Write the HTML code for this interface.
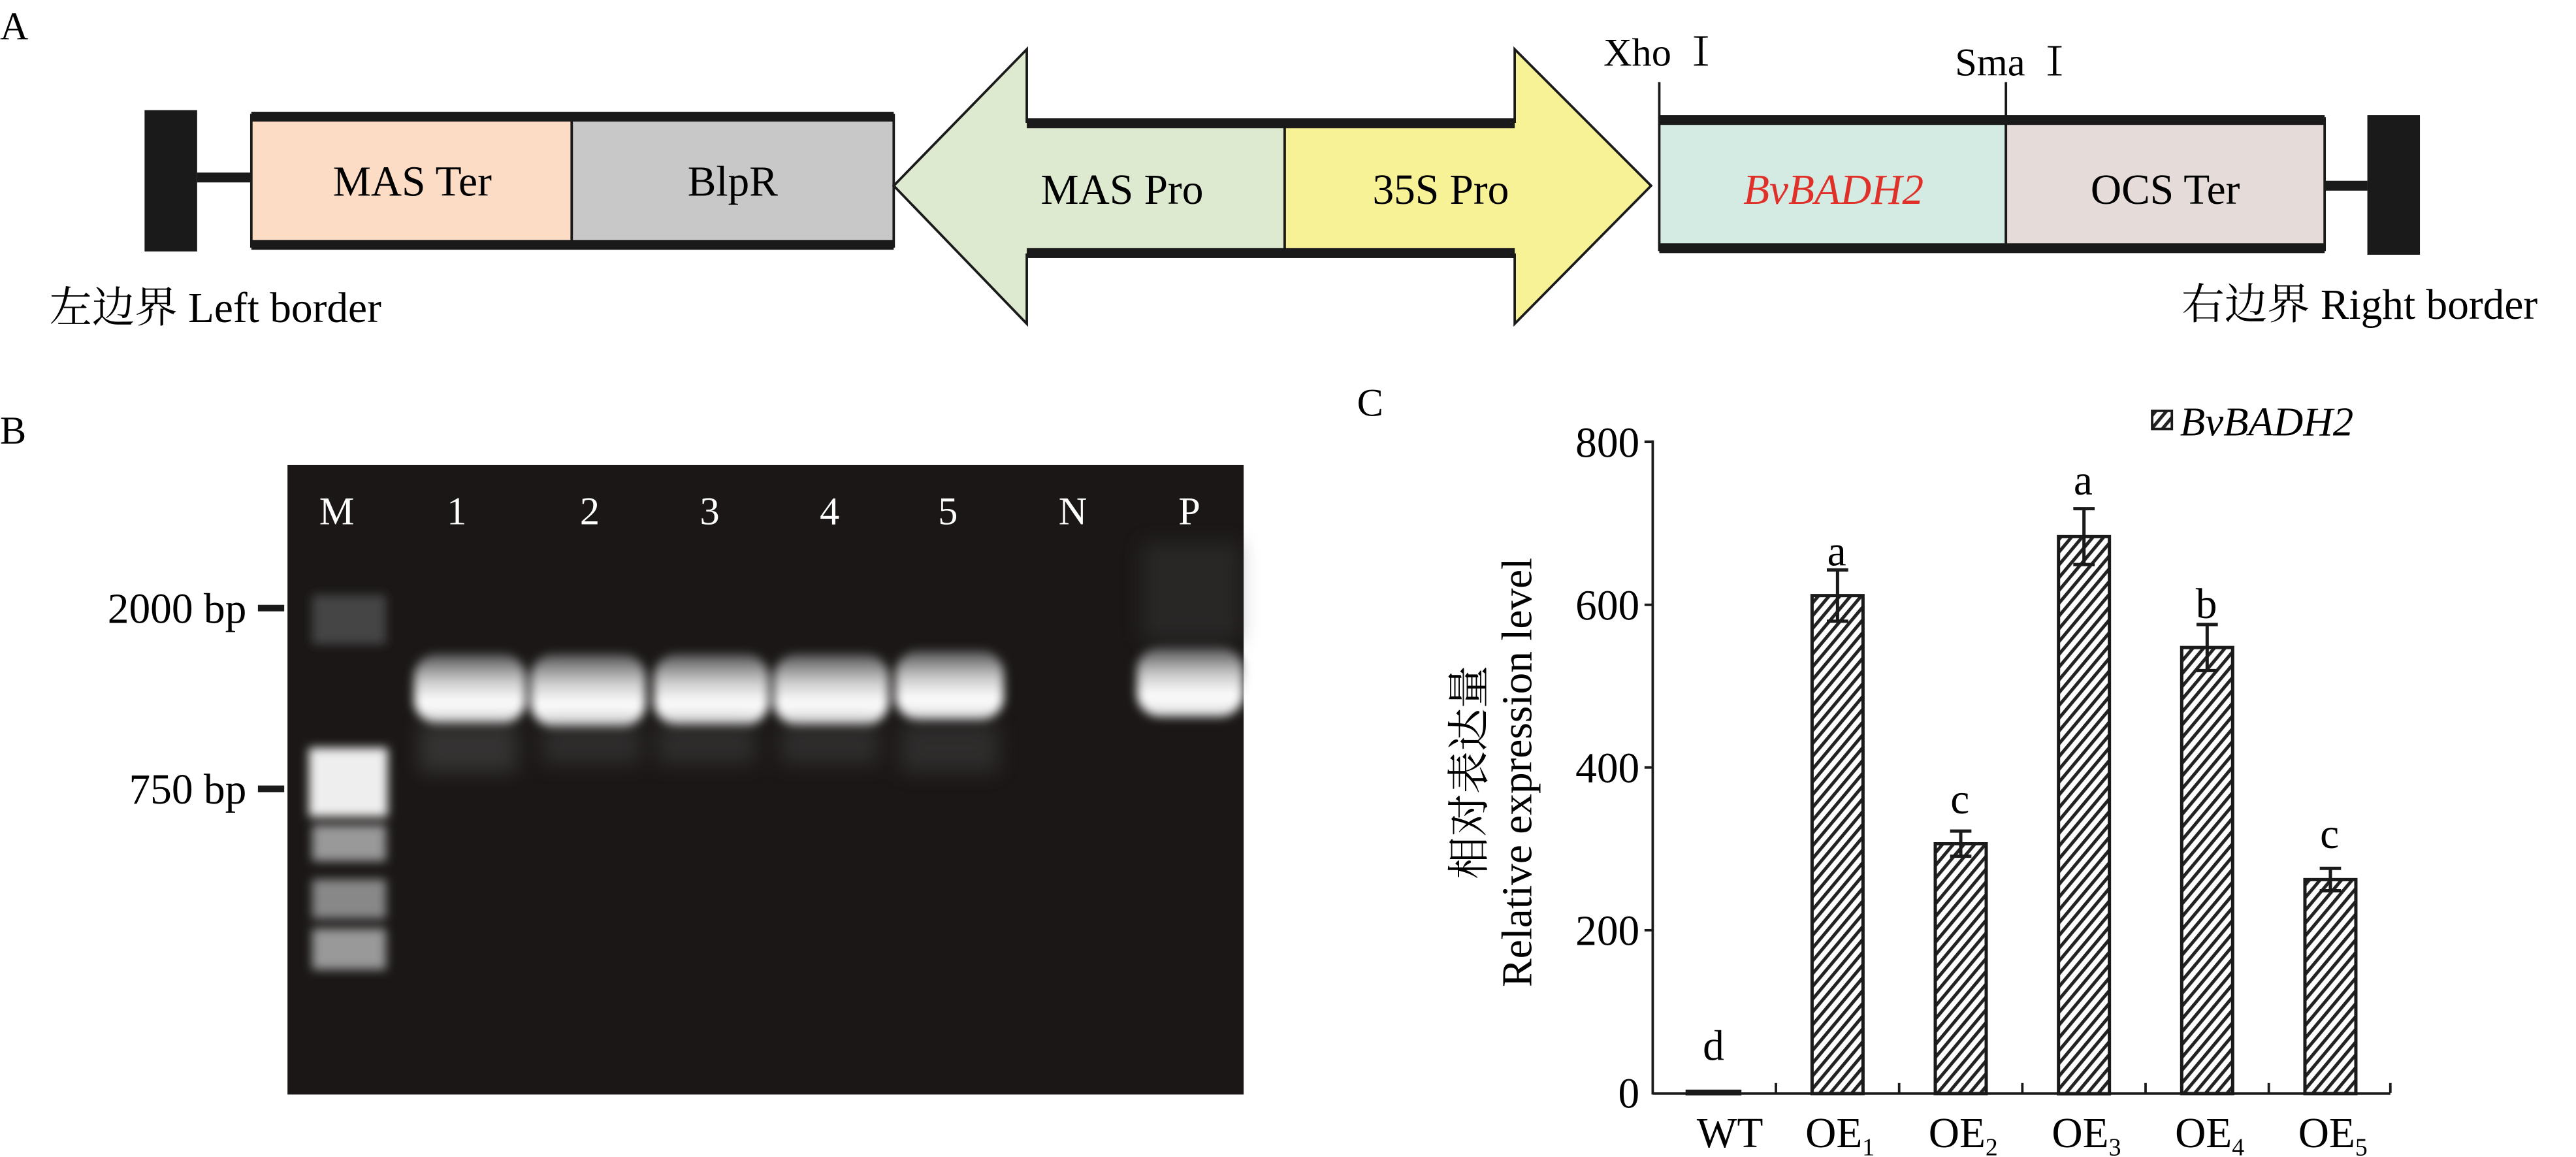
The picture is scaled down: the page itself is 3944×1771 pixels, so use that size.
<!DOCTYPE html>
<html><head><meta charset="utf-8"><style>
html,body{margin:0;padding:0;background:#fff;}
svg{display:block;}
svg text{font-family:"Liberation Serif","Noto Serif CJK SC",serif !important;}
</style></head><body>
<svg width="3944" height="1771" viewBox="0 0 1568 704" preserveAspectRatio="none" xmlns="http://www.w3.org/2000/svg" font-family="'Liberation Serif','Noto Serif CJK SC',serif">
<defs>
<pattern id="h" width="5" height="5" patternUnits="userSpaceOnUse" patternTransform="rotate(40)">
<rect width="5" height="5" fill="#fff"/><rect width="2" height="5" fill="#222"/>
</pattern>
<filter id="b" x="-30%" y="-50%" width="160%" height="200%"><feGaussianBlur stdDeviation="3"/></filter>
<filter id="b2" x="-30%" y="-50%" width="160%" height="200%"><feGaussianBlur stdDeviation="6"/></filter>
<linearGradient id="band" x1="0" y1="0" x2="0" y2="1">
<stop offset="0" stop-color="#555"/><stop offset="0.4" stop-color="#ccc"/><stop offset="0.7" stop-color="#fff"/><stop offset="1" stop-color="#ddd"/>
</linearGradient>
</defs>
<rect width="1568" height="704" fill="#fff"/>

<!-- Panel A -->
<text x="0" y="24" font-size="24">A</text>
<rect x="88" y="67" width="32" height="86" fill="#1a1a1a"/>
<rect x="120" y="105" width="33" height="6" fill="#1a1a1a"/>
<rect x="153" y="70" width="195" height="80" fill="#fddcc6" stroke="#1a1a1a" stroke-width="1.5"/>
<rect x="348" y="70" width="196" height="80" fill="#c8c8c8" stroke="#1a1a1a" stroke-width="1.5"/>
<rect x="153" y="68" width="391" height="6" fill="#1a1a1a"/>
<rect x="153" y="146" width="391" height="6" fill="#1a1a1a"/>
<polygon points="544,113 625,30 625,74 782,74 782,155 625,155 625,197" fill="#deead0" stroke="#1a1a1a" stroke-width="1.5"/>
<polygon points="782,74 922,74 922,30 1005,113 922,197 922,155 782,155" fill="#f8f297" stroke="#1a1a1a" stroke-width="1.5"/>
<rect x="625" y="72" width="297" height="6" fill="#1a1a1a"/>
<rect x="625" y="151" width="297" height="6" fill="#1a1a1a"/>
<rect x="1010" y="72" width="211" height="80" fill="#d3ebe3" stroke="#1a1a1a" stroke-width="1.5"/>
<rect x="1221" y="72" width="194" height="80" fill="#e5dcd9" stroke="#1a1a1a" stroke-width="1.5"/>
<rect x="1010" y="70" width="405" height="6" fill="#1a1a1a"/>
<rect x="1010" y="148" width="405" height="6" fill="#1a1a1a"/>
<rect x="1415" y="110" width="26" height="6" fill="#1a1a1a"/>
<rect x="1441" y="70" width="32" height="85" fill="#1a1a1a"/>
<line x1="1010" y1="50" x2="1010" y2="72" stroke="#1a1a1a" stroke-width="1.5"/>
<line x1="1221" y1="50" x2="1221" y2="72" stroke="#1a1a1a" stroke-width="1.5"/>
<text x="976" y="40" font-size="24">Xho Ⅰ</text>
<text x="1190" y="46" font-size="24">Sma Ⅰ</text>
<text x="251" y="119" font-size="26" text-anchor="middle">MAS Ter</text>
<text x="446" y="119" font-size="26" text-anchor="middle">BlpR</text>
<text x="683" y="124" font-size="26" text-anchor="middle">MAS Pro</text>
<text x="877" y="124" font-size="26" text-anchor="middle">35S Pro</text>
<text x="1116" y="124" font-size="26" text-anchor="middle" fill="#e0302a" font-style="italic">BvBADH2</text>
<text x="1318" y="124" font-size="26" text-anchor="middle">OCS Ter</text>
<text x="30" y="196" font-size="26">左边界 Left border</text>
<text x="1328" y="194" font-size="26">右边界 Right border</text>

<!-- Panel B -->
<text x="0" y="270" font-size="24">B</text>
<rect x="175" y="283" width="582" height="383" fill="#1a1716"/>
<!-- bands -->
<g filter="url(#b)">
<rect x="252" y="398" width="68" height="42" rx="14" fill="url(#band)"/>
<rect x="323" y="398" width="70" height="44" rx="14" fill="url(#band)"/>
<rect x="398" y="398" width="70" height="43" rx="14" fill="url(#band)"/>
<rect x="471" y="398" width="70" height="43" rx="14" fill="url(#band)"/>
<rect x="545" y="396" width="66" height="42" rx="14" fill="url(#band)"/>
<rect x="692" y="394" width="65" height="42" rx="14" fill="url(#band)"/>
</g>
<g filter="url(#b2)" opacity="0.35">
<rect x="255" y="440" width="60" height="30" fill="#666"/>
<rect x="330" y="440" width="60" height="25" fill="#555"/>
<rect x="400" y="440" width="60" height="25" fill="#555"/>
<rect x="475" y="440" width="60" height="25" fill="#555"/>
<rect x="548" y="440" width="60" height="30" fill="#555"/>
<rect x="695" y="330" width="60" height="60" fill="#444"/>
</g>
<g filter="url(#b)">
<rect x="190" y="362" width="45" height="30" fill="#444"/>
<rect x="188" y="455" width="48" height="42" fill="#eee"/>
<rect x="190" y="502" width="45" height="22" fill="#999"/>
<rect x="190" y="535" width="45" height="24" fill="#888"/>
<rect x="190" y="565" width="45" height="25" fill="#999"/>
</g>
<g fill="#fff" font-size="24" text-anchor="middle">
<text x="205" y="319">M</text><text x="278" y="319">1</text><text x="359" y="319">2</text><text x="432" y="319">3</text><text x="505" y="319">4</text><text x="577" y="319">5</text><text x="653" y="319">N</text><text x="724" y="319">P</text>
</g>
<text x="150" y="379" font-size="26" text-anchor="end">2000 bp</text>
<rect x="157" y="368" width="16" height="4" fill="#1a1a1a"/>
<text x="150" y="489" font-size="26" text-anchor="end">750 bp</text>
<rect x="157" y="478" width="16" height="4" fill="#1a1a1a"/>

<!-- Panel C -->
<text x="826" y="253" font-size="24">C</text>
<g stroke="#1a1a1a" stroke-width="1.5" fill="none">
<line x1="1006" y1="268" x2="1006" y2="666"/>
<line x1="1006" y1="665.4" x2="1455" y2="665.4"/>
<line x1="1001" y1="268.8" x2="1006" y2="268.8"/>
<line x1="1001" y1="368" x2="1006" y2="368"/>
<line x1="1001" y1="467" x2="1006" y2="467"/>
<line x1="1001" y1="566" x2="1006" y2="566"/>
<line x1="1081" y1="659" x2="1081" y2="665"/>
<line x1="1156" y1="659" x2="1156" y2="665"/>
<line x1="1231" y1="659" x2="1231" y2="665"/>
<line x1="1306" y1="659" x2="1306" y2="665"/>
<line x1="1381" y1="659" x2="1381" y2="665"/>
<line x1="1455" y1="659" x2="1455" y2="665"/>
</g>
<g font-size="26" text-anchor="end">
<text x="998" y="278">800</text><text x="998" y="377">600</text><text x="998" y="476">400</text><text x="998" y="575">200</text><text x="998" y="674">0</text>
</g>
<g fill="url(#h)" stroke="#1a1a1a" stroke-width="2">
<rect x="1027" y="664" width="32" height="1.5"/>
<rect x="1103" y="362.4" width="31" height="303"/>
<rect x="1178" y="513.4" width="31" height="152"/>
<rect x="1253" y="326.5" width="31" height="339"/>
<rect x="1328" y="394" width="31" height="271.4"/>
<rect x="1403" y="535.2" width="31" height="130.2"/>
</g>
<g stroke="#1a1a1a" stroke-width="2">
<line x1="1118.5" y1="346.8" x2="1118.5" y2="378"/><line x1="1112" y1="346.8" x2="1125" y2="346.8"/><line x1="1112" y1="378" x2="1125" y2="378"/>
<line x1="1193.5" y1="505.7" x2="1193.5" y2="521"/><line x1="1187" y1="505.7" x2="1200" y2="505.7"/><line x1="1187" y1="521" x2="1200" y2="521"/>
<line x1="1268.5" y1="309.5" x2="1268.5" y2="343.5"/><line x1="1262" y1="309.5" x2="1275" y2="309.5"/><line x1="1262" y1="343.5" x2="1275" y2="343.5"/>
<line x1="1343.5" y1="380" x2="1343.5" y2="408"/><line x1="1337" y1="380" x2="1350" y2="380"/><line x1="1337" y1="408" x2="1350" y2="408"/>
<line x1="1418.5" y1="528.4" x2="1418.5" y2="542"/><line x1="1412" y1="528.4" x2="1425" y2="528.4"/><line x1="1412" y1="542" x2="1425" y2="542"/>
</g>
<g font-size="26" text-anchor="middle">
<text x="1043" y="645">d</text><text x="1118" y="344">a</text><text x="1193" y="495">c</text><text x="1268" y="301">a</text><text x="1343" y="376">b</text><text x="1418" y="516">c</text>
</g>
<g font-size="26" text-anchor="middle">
<text x="1053" y="698">WT</text>
<text x="1120" y="698">OE<tspan font-size="15" dy="5">1</tspan></text>
<text x="1195" y="698">OE<tspan font-size="15" dy="5">2</tspan></text>
<text x="1270" y="698">OE<tspan font-size="15" dy="5">3</tspan></text>
<text x="1345" y="698">OE<tspan font-size="15" dy="5">4</tspan></text>
<text x="1420" y="698">OE<tspan font-size="15" dy="5">5</tspan></text>
</g>
<g font-size="26" text-anchor="middle">
<text transform="translate(903,470) rotate(-90)">相对表达量</text>
<text transform="translate(932,470) rotate(-90)">Relative expression level</text>
</g>
<rect x="1310" y="250" width="12" height="11" fill="url(#h)" stroke="#1a1a1a" stroke-width="1.5"/>
<text x="1327" y="265" font-size="25" font-style="italic">BvBADH2</text>
</svg>
</body></html>
